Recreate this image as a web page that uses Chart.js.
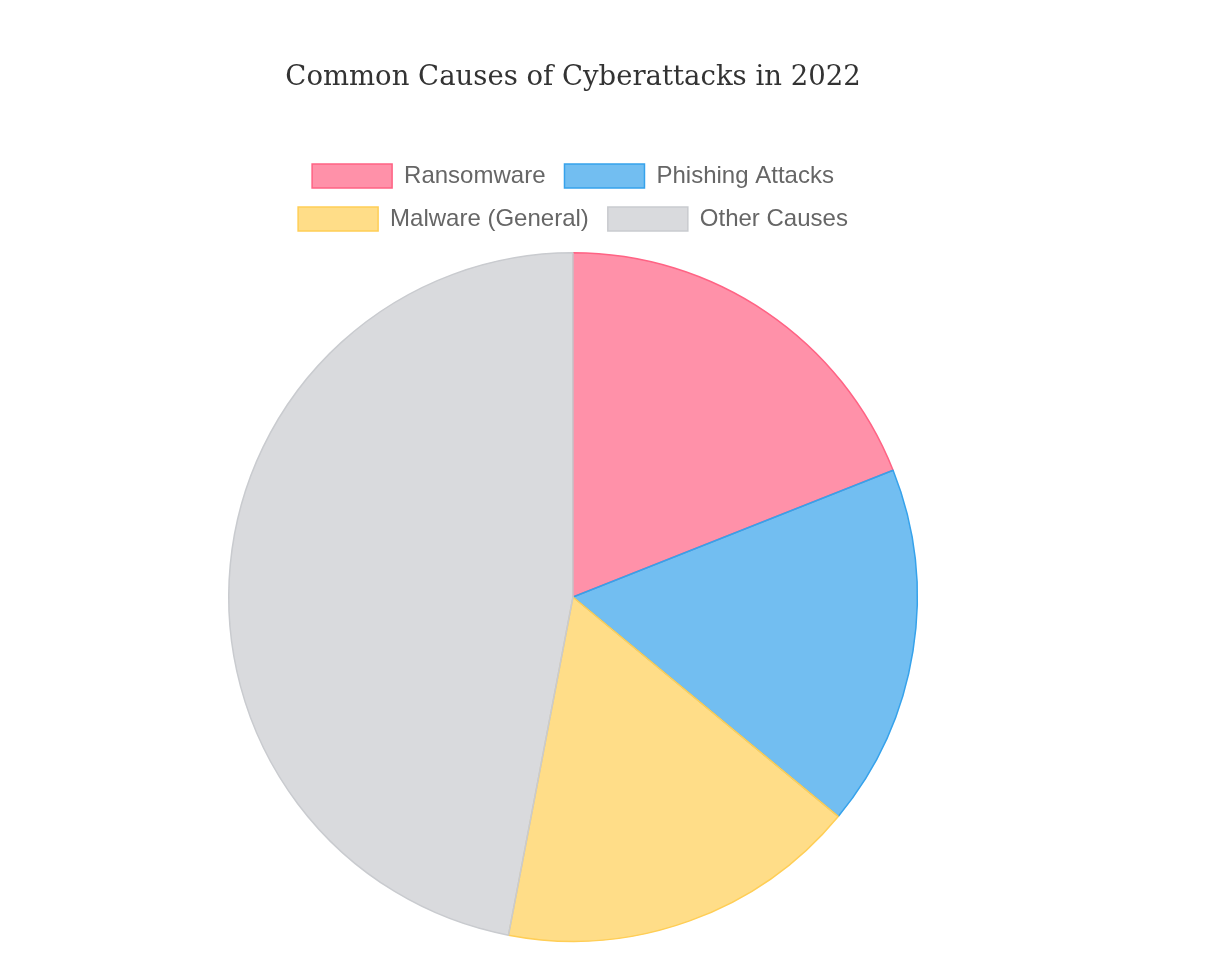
<!DOCTYPE html>
<html>
<head>
<meta charset="utf-8">
<script src="https://cdn.jsdelivr.net/npm/chart.js"></script>
<style>
  html, body { margin: 0; padding: 0; background: #fff; }
  #wrap { position: absolute; left: 183px; top: 0; width: 780px; height: 956px; }
</style>
</head>
<body>
<div id="wrap"><canvas id="pieChart"></canvas></div>
<script>
const labels = ['Ransomware', 'Phishing Attacks', 'Malware (General)', 'Other Causes'];
const shares = [19, 17, 17, 47];
const fillColors = ['rgba(255, 99, 132, 0.7)', 'rgba(54, 162, 235, 0.7)', 'rgba(255, 206, 86, 0.7)', 'rgba(201, 203, 207, 0.7)'];
const lineColors = ['rgba(255, 99, 132, 1)', 'rgba(54, 162, 235, 1)', 'rgba(255, 206, 86, 1)', 'rgba(201, 203, 207, 1)'];

const pieCtx = document.getElementById('pieChart');

// a bit of extra room under the legend
const legendGap = {
    id: 'legendGap',
    beforeInit(chart) {
        const fit = chart.legend.fit;
        chart.legend.fit = function () {
            fit.bind(chart.legend)();
            this.height += 11;
        };
    }
};

const pieChart = new Chart(pieCtx, {
    type: 'pie',
    data: {
        labels: labels,
        datasets: [{
            data: shares,
            backgroundColor: fillColors,
            borderColor: lineColors,
            borderWidth: 1.5
        }]
    },
    options: {
        responsive: true,
        maintainAspectRatio: false,
        animation: false,
        layout: {
            padding: { bottom: 14 }
        },
        plugins: {
            title: {
                display: true,
                text: 'Common Causes of Cyberattacks in 2022',
                color: '#333',
                font: { family: "Georgia, 'DejaVu Serif', serif", size: 27.5, weight: 'normal' },
                padding: { top: 61, bottom: 51 }
            },
            legend: {
                position: 'top',
                labels: {
                    color: '#666',
                    font: { family: "'Helvetica Neue', 'Liberation Sans', Arial, sans-serif", size: 24 },
                    boxWidth: 80,
                    boxHeight: 24,
                    padding: 19
                }
            },
            tooltip: { enabled: false }
        }
    },
    plugins: [legendGap]
});
</script>
</body>
</html>
